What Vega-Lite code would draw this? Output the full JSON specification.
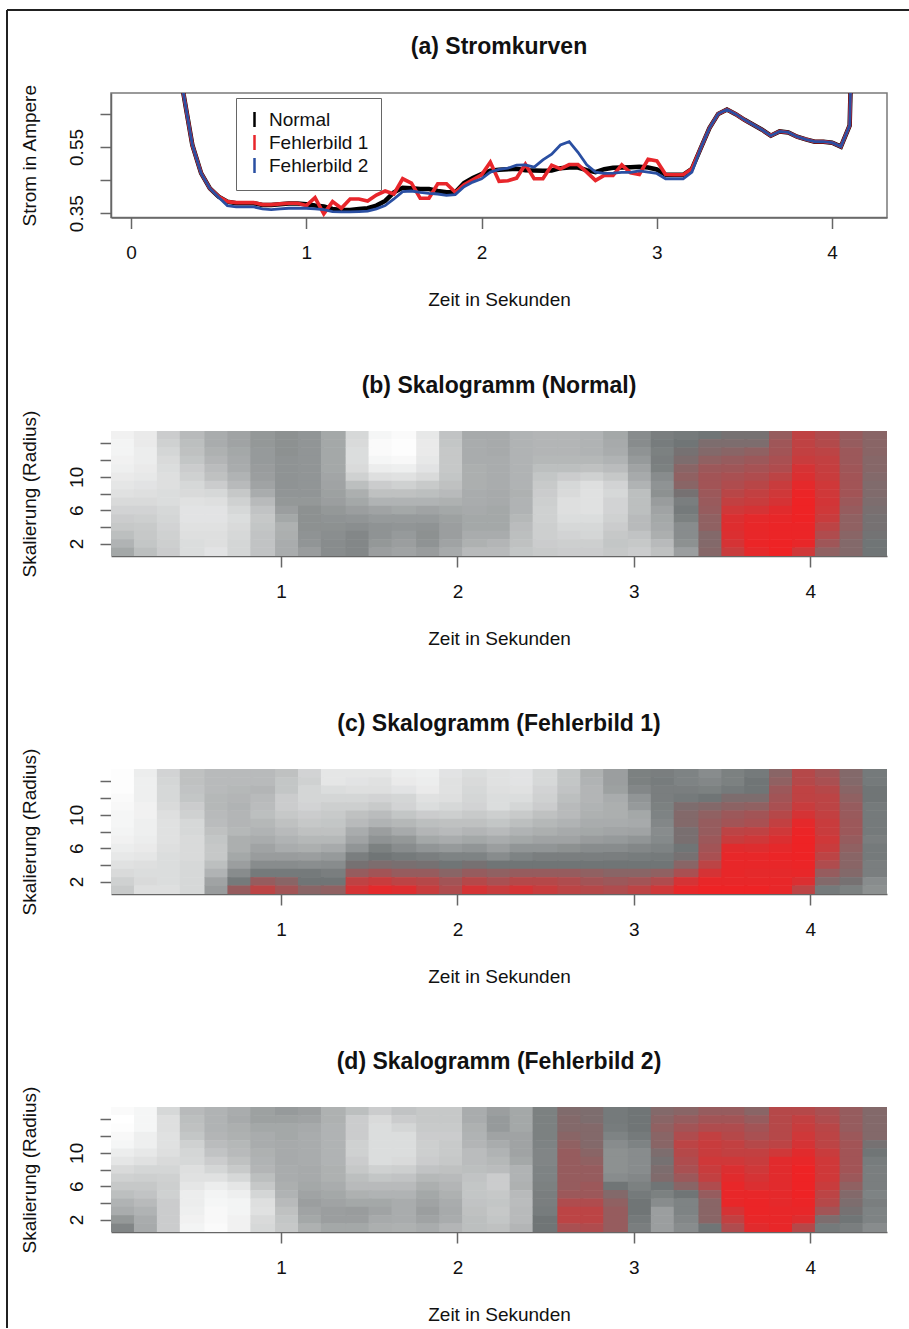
{"$schema":"https://vega.github.io/schema/vega-lite/v6.json","padding":{"left":5,"top":8,"right":0,"bottom":0},"background":"white","bounds":"flush","spacing":213,"config":{"font":"Liberation Sans","view":{"stroke":null},"title":{"fontSize":23,"fontWeight":"bold","offset":12,"frame":"group","color":"#111"},"axis":{"labelFontSize":19,"titleFontSize":19,"titleFontWeight":"normal","labelColor":"#111","titleColor":"#111","tickColor":"#666","domainColor":"#666","tickWidth":1.5,"domainWidth":1.5,"tickSize":11,"grid":false}},
"datasets":{
"kurven":[
{"s":"Normal","t":0.25,"i":0.95},{"s":"Normal","t":0.3,"i":0.709},{"s":"Normal","t":0.35,"i":0.556},{"s":"Normal","t":0.4,"i":0.471},{"s":"Normal","t":0.45,"i":0.425},{"s":"Normal","t":0.5,"i":0.4},{"s":"Normal","t":0.55,"i":0.385},{"s":"Normal","t":0.6,"i":0.38},{"s":"Normal","t":0.65,"i":0.38},{"s":"Normal","t":0.7,"i":0.38},{"s":"Normal","t":0.75,"i":0.375},{"s":"Normal","t":0.8,"i":0.375},{"s":"Normal","t":0.85,"i":0.377},{"s":"Normal","t":0.9,"i":0.379},{"s":"Normal","t":0.95,"i":0.379},{"s":"Normal","t":1.0,"i":0.377},{"s":"Normal","t":1.05,"i":0.373},{"s":"Normal","t":1.1,"i":0.37},{"s":"Normal","t":1.15,"i":0.363},{"s":"Normal","t":1.2,"i":0.36},{"s":"Normal","t":1.25,"i":0.36},{"s":"Normal","t":1.3,"i":0.363},{"s":"Normal","t":1.35,"i":0.365},{"s":"Normal","t":1.4,"i":0.373},{"s":"Normal","t":1.45,"i":0.387},{"s":"Normal","t":1.5,"i":0.413},{"s":"Normal","t":1.55,"i":0.427},{"s":"Normal","t":1.6,"i":0.425},{"s":"Normal","t":1.65,"i":0.423},{"s":"Normal","t":1.7,"i":0.423},{"s":"Normal","t":1.75,"i":0.417},{"s":"Normal","t":1.8,"i":0.413},{"s":"Normal","t":1.85,"i":0.413},{"s":"Normal","t":1.9,"i":0.441},{"s":"Normal","t":1.95,"i":0.456},{"s":"Normal","t":2.0,"i":0.468},{"s":"Normal","t":2.05,"i":0.478},{"s":"Normal","t":2.1,"i":0.481},{"s":"Normal","t":2.15,"i":0.483},{"s":"Normal","t":2.2,"i":0.484},{"s":"Normal","t":2.25,"i":0.48},{"s":"Normal","t":2.3,"i":0.479},{"s":"Normal","t":2.35,"i":0.478},{"s":"Normal","t":2.4,"i":0.479},{"s":"Normal","t":2.45,"i":0.486},{"s":"Normal","t":2.5,"i":0.488},{"s":"Normal","t":2.55,"i":0.488},{"s":"Normal","t":2.6,"i":0.48},{"s":"Normal","t":2.65,"i":0.474},{"s":"Normal","t":2.7,"i":0.483},{"s":"Normal","t":2.75,"i":0.487},{"s":"Normal","t":2.8,"i":0.488},{"s":"Normal","t":2.85,"i":0.489},{"s":"Normal","t":2.9,"i":0.49},{"s":"Normal","t":2.95,"i":0.488},{"s":"Normal","t":3.0,"i":0.482},{"s":"Normal","t":3.05,"i":0.466},{"s":"Normal","t":3.1,"i":0.466},{"s":"Normal","t":3.15,"i":0.466},{"s":"Normal","t":3.2,"i":0.484},{"s":"Normal","t":3.25,"i":0.546},{"s":"Normal","t":3.3,"i":0.607},{"s":"Normal","t":3.35,"i":0.65},{"s":"Normal","t":3.4,"i":0.663},{"s":"Normal","t":3.45,"i":0.649},{"s":"Normal","t":3.5,"i":0.632},{"s":"Normal","t":3.55,"i":0.617},{"s":"Normal","t":3.6,"i":0.602},{"s":"Normal","t":3.65,"i":0.584},{"s":"Normal","t":3.7,"i":0.597},{"s":"Normal","t":3.75,"i":0.594},{"s":"Normal","t":3.8,"i":0.581},{"s":"Normal","t":3.85,"i":0.573},{"s":"Normal","t":3.9,"i":0.566},{"s":"Normal","t":3.95,"i":0.566},{"s":"Normal","t":4.0,"i":0.563},{"s":"Normal","t":4.05,"i":0.551},{"s":"Normal","t":4.1,"i":0.615},{"s":"Normal","t":4.15,"i":1.7},
{"s":"Fehlerbild 1","t":0.25,"i":0.95},{"s":"Fehlerbild 1","t":0.3,"i":0.709},{"s":"Fehlerbild 1","t":0.35,"i":0.556},{"s":"Fehlerbild 1","t":0.4,"i":0.471},{"s":"Fehlerbild 1","t":0.45,"i":0.425},{"s":"Fehlerbild 1","t":0.5,"i":0.4},{"s":"Fehlerbild 1","t":0.55,"i":0.385},{"s":"Fehlerbild 1","t":0.6,"i":0.382},{"s":"Fehlerbild 1","t":0.65,"i":0.382},{"s":"Fehlerbild 1","t":0.7,"i":0.382},{"s":"Fehlerbild 1","t":0.75,"i":0.376},{"s":"Fehlerbild 1","t":0.8,"i":0.376},{"s":"Fehlerbild 1","t":0.85,"i":0.378},{"s":"Fehlerbild 1","t":0.9,"i":0.38},{"s":"Fehlerbild 1","t":0.95,"i":0.38},{"s":"Fehlerbild 1","t":1.0,"i":0.373},{"s":"Fehlerbild 1","t":1.05,"i":0.397},{"s":"Fehlerbild 1","t":1.1,"i":0.348},{"s":"Fehlerbild 1","t":1.15,"i":0.385},{"s":"Fehlerbild 1","t":1.2,"i":0.365},{"s":"Fehlerbild 1","t":1.25,"i":0.393},{"s":"Fehlerbild 1","t":1.3,"i":0.393},{"s":"Fehlerbild 1","t":1.35,"i":0.387},{"s":"Fehlerbild 1","t":1.4,"i":0.405},{"s":"Fehlerbild 1","t":1.45,"i":0.417},{"s":"Fehlerbild 1","t":1.5,"i":0.408},{"s":"Fehlerbild 1","t":1.55,"i":0.454},{"s":"Fehlerbild 1","t":1.6,"i":0.441},{"s":"Fehlerbild 1","t":1.65,"i":0.395},{"s":"Fehlerbild 1","t":1.7,"i":0.395},{"s":"Fehlerbild 1","t":1.75,"i":0.439},{"s":"Fehlerbild 1","t":1.8,"i":0.439},{"s":"Fehlerbild 1","t":1.85,"i":0.413},{"s":"Fehlerbild 1","t":1.9,"i":0.436},{"s":"Fehlerbild 1","t":1.95,"i":0.451},{"s":"Fehlerbild 1","t":2.0,"i":0.466},{"s":"Fehlerbild 1","t":2.05,"i":0.504},{"s":"Fehlerbild 1","t":2.1,"i":0.446},{"s":"Fehlerbild 1","t":2.15,"i":0.448},{"s":"Fehlerbild 1","t":2.2,"i":0.456},{"s":"Fehlerbild 1","t":2.25,"i":0.498},{"s":"Fehlerbild 1","t":2.3,"i":0.454},{"s":"Fehlerbild 1","t":2.35,"i":0.454},{"s":"Fehlerbild 1","t":2.4,"i":0.495},{"s":"Fehlerbild 1","t":2.45,"i":0.484},{"s":"Fehlerbild 1","t":2.5,"i":0.497},{"s":"Fehlerbild 1","t":2.55,"i":0.497},{"s":"Fehlerbild 1","t":2.6,"i":0.474},{"s":"Fehlerbild 1","t":2.65,"i":0.449},{"s":"Fehlerbild 1","t":2.7,"i":0.464},{"s":"Fehlerbild 1","t":2.75,"i":0.464},{"s":"Fehlerbild 1","t":2.8,"i":0.496},{"s":"Fehlerbild 1","t":2.85,"i":0.472},{"s":"Fehlerbild 1","t":2.9,"i":0.467},{"s":"Fehlerbild 1","t":2.95,"i":0.513},{"s":"Fehlerbild 1","t":3.0,"i":0.508},{"s":"Fehlerbild 1","t":3.05,"i":0.467},{"s":"Fehlerbild 1","t":3.1,"i":0.466},{"s":"Fehlerbild 1","t":3.15,"i":0.466},{"s":"Fehlerbild 1","t":3.2,"i":0.484},{"s":"Fehlerbild 1","t":3.25,"i":0.546},{"s":"Fehlerbild 1","t":3.3,"i":0.607},{"s":"Fehlerbild 1","t":3.35,"i":0.65},{"s":"Fehlerbild 1","t":3.4,"i":0.663},{"s":"Fehlerbild 1","t":3.45,"i":0.649},{"s":"Fehlerbild 1","t":3.5,"i":0.632},{"s":"Fehlerbild 1","t":3.55,"i":0.617},{"s":"Fehlerbild 1","t":3.6,"i":0.602},{"s":"Fehlerbild 1","t":3.65,"i":0.584},{"s":"Fehlerbild 1","t":3.7,"i":0.597},{"s":"Fehlerbild 1","t":3.75,"i":0.594},{"s":"Fehlerbild 1","t":3.8,"i":0.581},{"s":"Fehlerbild 1","t":3.85,"i":0.573},{"s":"Fehlerbild 1","t":3.9,"i":0.566},{"s":"Fehlerbild 1","t":3.95,"i":0.566},{"s":"Fehlerbild 1","t":4.0,"i":0.563},{"s":"Fehlerbild 1","t":4.05,"i":0.551},{"s":"Fehlerbild 1","t":4.1,"i":0.615},{"s":"Fehlerbild 1","t":4.15,"i":1.7},
{"s":"Fehlerbild 2","t":0.25,"i":0.95},{"s":"Fehlerbild 2","t":0.3,"i":0.709},{"s":"Fehlerbild 2","t":0.35,"i":0.556},{"s":"Fehlerbild 2","t":0.4,"i":0.471},{"s":"Fehlerbild 2","t":0.45,"i":0.425},{"s":"Fehlerbild 2","t":0.5,"i":0.398},{"s":"Fehlerbild 2","t":0.55,"i":0.373},{"s":"Fehlerbild 2","t":0.6,"i":0.369},{"s":"Fehlerbild 2","t":0.65,"i":0.369},{"s":"Fehlerbild 2","t":0.7,"i":0.369},{"s":"Fehlerbild 2","t":0.75,"i":0.363},{"s":"Fehlerbild 2","t":0.8,"i":0.361},{"s":"Fehlerbild 2","t":0.85,"i":0.363},{"s":"Fehlerbild 2","t":0.9,"i":0.365},{"s":"Fehlerbild 2","t":0.95,"i":0.365},{"s":"Fehlerbild 2","t":1.0,"i":0.365},{"s":"Fehlerbild 2","t":1.05,"i":0.363},{"s":"Fehlerbild 2","t":1.1,"i":0.361},{"s":"Fehlerbild 2","t":1.15,"i":0.355},{"s":"Fehlerbild 2","t":1.2,"i":0.354},{"s":"Fehlerbild 2","t":1.25,"i":0.354},{"s":"Fehlerbild 2","t":1.3,"i":0.355},{"s":"Fehlerbild 2","t":1.35,"i":0.356},{"s":"Fehlerbild 2","t":1.4,"i":0.363},{"s":"Fehlerbild 2","t":1.45,"i":0.373},{"s":"Fehlerbild 2","t":1.5,"i":0.393},{"s":"Fehlerbild 2","t":1.55,"i":0.415},{"s":"Fehlerbild 2","t":1.6,"i":0.417},{"s":"Fehlerbild 2","t":1.65,"i":0.413},{"s":"Fehlerbild 2","t":1.7,"i":0.41},{"s":"Fehlerbild 2","t":1.75,"i":0.408},{"s":"Fehlerbild 2","t":1.8,"i":0.404},{"s":"Fehlerbild 2","t":1.85,"i":0.406},{"s":"Fehlerbild 2","t":1.9,"i":0.43},{"s":"Fehlerbild 2","t":1.95,"i":0.444},{"s":"Fehlerbild 2","t":2.0,"i":0.454},{"s":"Fehlerbild 2","t":2.05,"i":0.474},{"s":"Fehlerbild 2","t":2.1,"i":0.482},{"s":"Fehlerbild 2","t":2.15,"i":0.486},{"s":"Fehlerbild 2","t":2.2,"i":0.495},{"s":"Fehlerbild 2","t":2.25,"i":0.496},{"s":"Fehlerbild 2","t":2.3,"i":0.489},{"s":"Fehlerbild 2","t":2.35,"i":0.511},{"s":"Fehlerbild 2","t":2.4,"i":0.528},{"s":"Fehlerbild 2","t":2.45,"i":0.556},{"s":"Fehlerbild 2","t":2.5,"i":0.566},{"s":"Fehlerbild 2","t":2.55,"i":0.534},{"s":"Fehlerbild 2","t":2.6,"i":0.496},{"s":"Fehlerbild 2","t":2.65,"i":0.474},{"s":"Fehlerbild 2","t":2.7,"i":0.47},{"s":"Fehlerbild 2","t":2.75,"i":0.471},{"s":"Fehlerbild 2","t":2.8,"i":0.473},{"s":"Fehlerbild 2","t":2.85,"i":0.473},{"s":"Fehlerbild 2","t":2.9,"i":0.478},{"s":"Fehlerbild 2","t":2.95,"i":0.474},{"s":"Fehlerbild 2","t":3.0,"i":0.47},{"s":"Fehlerbild 2","t":3.05,"i":0.454},{"s":"Fehlerbild 2","t":3.1,"i":0.454},{"s":"Fehlerbild 2","t":3.15,"i":0.454},{"s":"Fehlerbild 2","t":3.2,"i":0.474},{"s":"Fehlerbild 2","t":3.25,"i":0.546},{"s":"Fehlerbild 2","t":3.3,"i":0.607},{"s":"Fehlerbild 2","t":3.35,"i":0.65},{"s":"Fehlerbild 2","t":3.4,"i":0.663},{"s":"Fehlerbild 2","t":3.45,"i":0.649},{"s":"Fehlerbild 2","t":3.5,"i":0.632},{"s":"Fehlerbild 2","t":3.55,"i":0.617},{"s":"Fehlerbild 2","t":3.6,"i":0.602},{"s":"Fehlerbild 2","t":3.65,"i":0.584},{"s":"Fehlerbild 2","t":3.7,"i":0.597},{"s":"Fehlerbild 2","t":3.75,"i":0.594},{"s":"Fehlerbild 2","t":3.8,"i":0.581},{"s":"Fehlerbild 2","t":3.85,"i":0.573},{"s":"Fehlerbild 2","t":3.9,"i":0.566},{"s":"Fehlerbild 2","t":3.95,"i":0.566},{"s":"Fehlerbild 2","t":4.0,"i":0.563},{"s":"Fehlerbild 2","t":4.05,"i":0.551},{"s":"Fehlerbild 2","t":4.1,"i":0.615},{"s":"Fehlerbild 2","t":4.15,"i":1.7}
],
"b":[
{"t":0.1,"r":15,"v":6},{"t":0.1,"r":14,"v":5},{"t":0.1,"r":13,"v":5},{"t":0.1,"r":12,"v":6},{"t":0.1,"r":11,"v":7},{"t":0.1,"r":10,"v":9},{"t":0.1,"r":9,"v":11},{"t":0.1,"r":8,"v":13},{"t":0.1,"r":7,"v":16},{"t":0.1,"r":6,"v":19},{"t":0.1,"r":5,"v":22},{"t":0.1,"r":4,"v":24},{"t":0.1,"r":3,"v":28},{"t":0.1,"r":2,"v":33},{"t":0.1,"r":1,"v":38},
{"t":0.24,"r":15,"v":9},{"t":0.24,"r":14,"v":9},{"t":0.24,"r":13,"v":8},{"t":0.24,"r":12,"v":8},{"t":0.24,"r":11,"v":9},{"t":0.24,"r":10,"v":10},{"t":0.24,"r":9,"v":12},{"t":0.24,"r":8,"v":14},{"t":0.24,"r":7,"v":16},{"t":0.24,"r":6,"v":19},{"t":0.24,"r":5,"v":21},{"t":0.24,"r":4,"v":23},{"t":0.24,"r":3,"v":24},{"t":0.24,"r":2,"v":25},{"t":0.24,"r":1,"v":28},
{"t":0.37,"r":15,"v":22},{"t":0.37,"r":14,"v":20},{"t":0.37,"r":13,"v":18},{"t":0.37,"r":12,"v":16},{"t":0.37,"r":11,"v":15},{"t":0.37,"r":10,"v":14},{"t":0.37,"r":9,"v":14},{"t":0.37,"r":8,"v":15},{"t":0.37,"r":7,"v":15},{"t":0.37,"r":6,"v":17},{"t":0.37,"r":5,"v":18},{"t":0.37,"r":4,"v":19},{"t":0.37,"r":3,"v":20},{"t":0.37,"r":2,"v":21},{"t":0.37,"r":1,"v":22},
{"t":0.5,"r":15,"v":30},{"t":0.5,"r":14,"v":28},{"t":0.5,"r":13,"v":27},{"t":0.5,"r":12,"v":25},{"t":0.5,"r":11,"v":22},{"t":0.5,"r":10,"v":20},{"t":0.5,"r":9,"v":17},{"t":0.5,"r":8,"v":16},{"t":0.5,"r":7,"v":13},{"t":0.5,"r":6,"v":12},{"t":0.5,"r":5,"v":12},{"t":0.5,"r":4,"v":13},{"t":0.5,"r":3,"v":14},{"t":0.5,"r":2,"v":15},{"t":0.5,"r":1,"v":15},
{"t":0.64,"r":15,"v":36},{"t":0.64,"r":14,"v":36},{"t":0.64,"r":13,"v":34},{"t":0.64,"r":12,"v":32},{"t":0.64,"r":11,"v":29},{"t":0.64,"r":10,"v":27},{"t":0.64,"r":9,"v":22},{"t":0.64,"r":8,"v":17},{"t":0.64,"r":7,"v":14},{"t":0.64,"r":6,"v":12},{"t":0.64,"r":5,"v":12},{"t":0.64,"r":4,"v":13},{"t":0.64,"r":3,"v":14},{"t":0.64,"r":2,"v":14},{"t":0.64,"r":1,"v":12},
{"t":0.77,"r":15,"v":40},{"t":0.77,"r":14,"v":40},{"t":0.77,"r":13,"v":38},{"t":0.77,"r":12,"v":37},{"t":0.77,"r":11,"v":36},{"t":0.77,"r":10,"v":33},{"t":0.77,"r":9,"v":30},{"t":0.77,"r":8,"v":24},{"t":0.77,"r":7,"v":20},{"t":0.77,"r":6,"v":17},{"t":0.77,"r":5,"v":15},{"t":0.77,"r":4,"v":16},{"t":0.77,"r":3,"v":17},{"t":0.77,"r":2,"v":18},{"t":0.77,"r":1,"v":18},
{"t":0.9,"r":15,"v":45},{"t":0.9,"r":14,"v":45},{"t":0.9,"r":13,"v":44},{"t":0.9,"r":12,"v":44},{"t":0.9,"r":11,"v":43},{"t":0.9,"r":10,"v":42},{"t":0.9,"r":9,"v":40},{"t":0.9,"r":8,"v":36},{"t":0.9,"r":7,"v":30},{"t":0.9,"r":6,"v":26},{"t":0.9,"r":5,"v":24},{"t":0.9,"r":4,"v":25},{"t":0.9,"r":3,"v":26},{"t":0.9,"r":2,"v":26},{"t":0.9,"r":1,"v":26},
{"t":1.04,"r":15,"v":48},{"t":1.04,"r":14,"v":48},{"t":1.04,"r":13,"v":48},{"t":1.04,"r":12,"v":47},{"t":1.04,"r":11,"v":47},{"t":1.04,"r":10,"v":47},{"t":1.04,"r":9,"v":47},{"t":1.04,"r":8,"v":46},{"t":1.04,"r":7,"v":45},{"t":1.04,"r":6,"v":42},{"t":1.04,"r":5,"v":38},{"t":1.04,"r":4,"v":34},{"t":1.04,"r":3,"v":35},{"t":1.04,"r":2,"v":36},{"t":1.04,"r":1,"v":36},
{"t":1.17,"r":15,"v":46},{"t":1.17,"r":14,"v":46},{"t":1.17,"r":13,"v":46},{"t":1.17,"r":12,"v":46},{"t":1.17,"r":11,"v":46},{"t":1.17,"r":10,"v":46},{"t":1.17,"r":9,"v":46},{"t":1.17,"r":8,"v":46},{"t":1.17,"r":7,"v":45},{"t":1.17,"r":6,"v":48},{"t":1.17,"r":5,"v":48},{"t":1.17,"r":4,"v":48},{"t":1.17,"r":3,"v":47},{"t":1.17,"r":2,"v":46},{"t":1.17,"r":1,"v":43},
{"t":1.3,"r":15,"v":38},{"t":1.3,"r":14,"v":38},{"t":1.3,"r":13,"v":38},{"t":1.3,"r":12,"v":38},{"t":1.3,"r":11,"v":38},{"t":1.3,"r":10,"v":39},{"t":1.3,"r":9,"v":40},{"t":1.3,"r":8,"v":41},{"t":1.3,"r":7,"v":42},{"t":1.3,"r":6,"v":45},{"t":1.3,"r":5,"v":47},{"t":1.3,"r":4,"v":48},{"t":1.3,"r":3,"v":49},{"t":1.3,"r":2,"v":50},{"t":1.3,"r":1,"v":50},
{"t":1.44,"r":15,"v":17},{"t":1.44,"r":14,"v":16},{"t":1.44,"r":13,"v":15},{"t":1.44,"r":12,"v":15},{"t":1.44,"r":11,"v":16},{"t":1.44,"r":10,"v":20},{"t":1.44,"r":9,"v":28},{"t":1.44,"r":8,"v":35},{"t":1.44,"r":7,"v":38},{"t":1.44,"r":6,"v":42},{"t":1.44,"r":5,"v":46},{"t":1.44,"r":4,"v":49},{"t":1.44,"r":3,"v":52},{"t":1.44,"r":2,"v":52},{"t":1.44,"r":1,"v":52},
{"t":1.57,"r":15,"v":4},{"t":1.57,"r":14,"v":2},{"t":1.57,"r":13,"v":2},{"t":1.57,"r":12,"v":4},{"t":1.57,"r":11,"v":8},{"t":1.57,"r":10,"v":14},{"t":1.57,"r":9,"v":22},{"t":1.57,"r":8,"v":27},{"t":1.57,"r":7,"v":33},{"t":1.57,"r":6,"v":40},{"t":1.57,"r":5,"v":44},{"t":1.57,"r":4,"v":47},{"t":1.57,"r":3,"v":47},{"t":1.57,"r":2,"v":45},{"t":1.57,"r":1,"v":42},
{"t":1.7,"r":15,"v":2},{"t":1.7,"r":14,"v":1},{"t":1.7,"r":13,"v":1},{"t":1.7,"r":12,"v":3},{"t":1.7,"r":11,"v":7},{"t":1.7,"r":10,"v":13},{"t":1.7,"r":9,"v":20},{"t":1.7,"r":8,"v":27},{"t":1.7,"r":7,"v":33},{"t":1.7,"r":6,"v":38},{"t":1.7,"r":5,"v":44},{"t":1.7,"r":4,"v":46},{"t":1.7,"r":3,"v":44},{"t":1.7,"r":2,"v":42},{"t":1.7,"r":1,"v":40},
{"t":1.84,"r":15,"v":10},{"t":1.84,"r":14,"v":9},{"t":1.84,"r":13,"v":9},{"t":1.84,"r":12,"v":10},{"t":1.84,"r":11,"v":12},{"t":1.84,"r":10,"v":16},{"t":1.84,"r":9,"v":23},{"t":1.84,"r":8,"v":28},{"t":1.84,"r":7,"v":33},{"t":1.84,"r":6,"v":40},{"t":1.84,"r":5,"v":44},{"t":1.84,"r":4,"v":47},{"t":1.84,"r":3,"v":48},{"t":1.84,"r":2,"v":47},{"t":1.84,"r":1,"v":43},
{"t":1.97,"r":15,"v":26},{"t":1.97,"r":14,"v":25},{"t":1.97,"r":13,"v":24},{"t":1.97,"r":12,"v":24},{"t":1.97,"r":11,"v":24},{"t":1.97,"r":10,"v":25},{"t":1.97,"r":9,"v":27},{"t":1.97,"r":8,"v":30},{"t":1.97,"r":7,"v":34},{"t":1.97,"r":6,"v":38},{"t":1.97,"r":5,"v":41},{"t":1.97,"r":4,"v":42},{"t":1.97,"r":3,"v":42},{"t":1.97,"r":2,"v":40},{"t":1.97,"r":1,"v":37},
{"t":2.1,"r":15,"v":37},{"t":2.1,"r":14,"v":36},{"t":2.1,"r":13,"v":36},{"t":2.1,"r":12,"v":36},{"t":2.1,"r":11,"v":35},{"t":2.1,"r":10,"v":35},{"t":2.1,"r":9,"v":35},{"t":2.1,"r":8,"v":36},{"t":2.1,"r":7,"v":36},{"t":2.1,"r":6,"v":37},{"t":2.1,"r":5,"v":38},{"t":2.1,"r":4,"v":38},{"t":2.1,"r":3,"v":36},{"t":2.1,"r":2,"v":34},{"t":2.1,"r":1,"v":30},
{"t":2.24,"r":15,"v":37},{"t":2.24,"r":14,"v":37},{"t":2.24,"r":13,"v":37},{"t":2.24,"r":12,"v":36},{"t":2.24,"r":11,"v":36},{"t":2.24,"r":10,"v":36},{"t":2.24,"r":9,"v":36},{"t":2.24,"r":8,"v":37},{"t":2.24,"r":7,"v":37},{"t":2.24,"r":6,"v":38},{"t":2.24,"r":5,"v":38},{"t":2.24,"r":4,"v":38},{"t":2.24,"r":3,"v":36},{"t":2.24,"r":2,"v":32},{"t":2.24,"r":1,"v":30},
{"t":2.37,"r":15,"v":33},{"t":2.37,"r":14,"v":33},{"t":2.37,"r":13,"v":33},{"t":2.37,"r":12,"v":33},{"t":2.37,"r":11,"v":33},{"t":2.37,"r":10,"v":33},{"t":2.37,"r":9,"v":33},{"t":2.37,"r":8,"v":34},{"t":2.37,"r":7,"v":33},{"t":2.37,"r":6,"v":33},{"t":2.37,"r":5,"v":31},{"t":2.37,"r":4,"v":29},{"t":2.37,"r":3,"v":28},{"t":2.37,"r":2,"v":27},{"t":2.37,"r":1,"v":25},
{"t":2.5,"r":15,"v":32},{"t":2.5,"r":14,"v":32},{"t":2.5,"r":13,"v":32},{"t":2.5,"r":12,"v":31},{"t":2.5,"r":11,"v":28},{"t":2.5,"r":10,"v":25},{"t":2.5,"r":9,"v":23},{"t":2.5,"r":8,"v":22},{"t":2.5,"r":7,"v":21},{"t":2.5,"r":6,"v":20},{"t":2.5,"r":5,"v":20},{"t":2.5,"r":4,"v":21},{"t":2.5,"r":3,"v":21},{"t":2.5,"r":2,"v":22},{"t":2.5,"r":1,"v":23},
{"t":2.64,"r":15,"v":32},{"t":2.64,"r":14,"v":32},{"t":2.64,"r":13,"v":32},{"t":2.64,"r":12,"v":31},{"t":2.64,"r":11,"v":28},{"t":2.64,"r":10,"v":22},{"t":2.64,"r":9,"v":17},{"t":2.64,"r":8,"v":16},{"t":2.64,"r":7,"v":14},{"t":2.64,"r":6,"v":14},{"t":2.64,"r":5,"v":15},{"t":2.64,"r":4,"v":17},{"t":2.64,"r":3,"v":19},{"t":2.64,"r":2,"v":21},{"t":2.64,"r":1,"v":22},
{"t":2.77,"r":15,"v":33},{"t":2.77,"r":14,"v":33},{"t":2.77,"r":13,"v":33},{"t":2.77,"r":12,"v":31},{"t":2.77,"r":11,"v":27},{"t":2.77,"r":10,"v":20},{"t":2.77,"r":9,"v":14},{"t":2.77,"r":8,"v":13},{"t":2.77,"r":7,"v":13},{"t":2.77,"r":6,"v":13},{"t":2.77,"r":5,"v":15},{"t":2.77,"r":4,"v":17},{"t":2.77,"r":3,"v":18},{"t":2.77,"r":2,"v":21},{"t":2.77,"r":1,"v":22},
{"t":2.9,"r":15,"v":38},{"t":2.9,"r":14,"v":37},{"t":2.9,"r":13,"v":36},{"t":2.9,"r":12,"v":33},{"t":2.9,"r":11,"v":29},{"t":2.9,"r":10,"v":24},{"t":2.9,"r":9,"v":19},{"t":2.9,"r":8,"v":17},{"t":2.9,"r":7,"v":19},{"t":2.9,"r":6,"v":19},{"t":2.9,"r":5,"v":20},{"t":2.9,"r":4,"v":22},{"t":2.9,"r":3,"v":24},{"t":2.9,"r":2,"v":25},{"t":2.9,"r":1,"v":24},
{"t":3.04,"r":15,"v":50},{"t":3.04,"r":14,"v":50},{"t":3.04,"r":13,"v":47},{"t":3.04,"r":12,"v":44},{"t":3.04,"r":11,"v":40},{"t":3.04,"r":10,"v":37},{"t":3.04,"r":9,"v":33},{"t":3.04,"r":8,"v":28},{"t":3.04,"r":7,"v":28},{"t":3.04,"r":6,"v":28},{"t":3.04,"r":5,"v":30},{"t":3.04,"r":4,"v":30},{"t":3.04,"r":3,"v":26},{"t":3.04,"r":2,"v":24},{"t":3.04,"r":1,"v":22},
{"t":3.17,"r":15,"v":56},{"t":3.17,"r":14,"v":57},{"t":3.17,"r":13,"v":55},{"t":3.17,"r":12,"v":56},{"t":3.17,"r":11,"v":55},{"t":3.17,"r":10,"v":50},{"t":3.17,"r":9,"v":47},{"t":3.17,"r":8,"v":48},{"t":3.17,"r":7,"v":43},{"t":3.17,"r":6,"v":40},{"t":3.17,"r":5,"v":38},{"t":3.17,"r":4,"v":37},{"t":3.17,"r":3,"v":35},{"t":3.17,"r":2,"v":30},{"t":3.17,"r":1,"v":27},
{"t":3.3,"r":15,"v":58},{"t":3.3,"r":14,"v":60},{"t":3.3,"r":13,"v":62},{"t":3.3,"r":12,"v":64},{"t":3.3,"r":11,"v":68},{"t":3.3,"r":10,"v":70},{"t":3.3,"r":9,"v":68},{"t":3.3,"r":8,"v":62},{"t":3.3,"r":7,"v":56},{"t":3.3,"r":6,"v":58},{"t":3.3,"r":5,"v":55},{"t":3.3,"r":4,"v":50},{"t":3.3,"r":3,"v":50},{"t":3.3,"r":2,"v":48},{"t":3.3,"r":1,"v":42},
{"t":3.44,"r":15,"v":60},{"t":3.44,"r":14,"v":64},{"t":3.44,"r":13,"v":66},{"t":3.44,"r":12,"v":70},{"t":3.44,"r":11,"v":74},{"t":3.44,"r":10,"v":76},{"t":3.44,"r":9,"v":76},{"t":3.44,"r":8,"v":74},{"t":3.44,"r":7,"v":73},{"t":3.44,"r":6,"v":72},{"t":3.44,"r":5,"v":70},{"t":3.44,"r":4,"v":70},{"t":3.44,"r":3,"v":66},{"t":3.44,"r":2,"v":66},{"t":3.44,"r":1,"v":67},
{"t":3.57,"r":15,"v":62},{"t":3.57,"r":14,"v":64},{"t":3.57,"r":13,"v":68},{"t":3.57,"r":12,"v":72},{"t":3.57,"r":11,"v":75},{"t":3.57,"r":10,"v":78},{"t":3.57,"r":9,"v":80},{"t":3.57,"r":8,"v":83},{"t":3.57,"r":7,"v":86},{"t":3.57,"r":6,"v":90},{"t":3.57,"r":5,"v":94},{"t":3.57,"r":4,"v":95},{"t":3.57,"r":3,"v":94},{"t":3.57,"r":2,"v":92},{"t":3.57,"r":1,"v":88},
{"t":3.7,"r":15,"v":62},{"t":3.7,"r":14,"v":64},{"t":3.7,"r":13,"v":70},{"t":3.7,"r":12,"v":74},{"t":3.7,"r":11,"v":77},{"t":3.7,"r":10,"v":80},{"t":3.7,"r":9,"v":83},{"t":3.7,"r":8,"v":86},{"t":3.7,"r":7,"v":88},{"t":3.7,"r":6,"v":92},{"t":3.7,"r":5,"v":97},{"t":3.7,"r":4,"v":98},{"t":3.7,"r":3,"v":98},{"t":3.7,"r":2,"v":99},{"t":3.7,"r":1,"v":97},
{"t":3.84,"r":15,"v":72},{"t":3.84,"r":14,"v":75},{"t":3.84,"r":13,"v":76},{"t":3.84,"r":12,"v":78},{"t":3.84,"r":11,"v":80},{"t":3.84,"r":10,"v":84},{"t":3.84,"r":9,"v":88},{"t":3.84,"r":8,"v":90},{"t":3.84,"r":7,"v":92},{"t":3.84,"r":6,"v":96},{"t":3.84,"r":5,"v":98},{"t":3.84,"r":4,"v":99},{"t":3.84,"r":3,"v":99},{"t":3.84,"r":2,"v":100},{"t":3.84,"r":1,"v":100},
{"t":3.97,"r":15,"v":85},{"t":3.97,"r":14,"v":85},{"t":3.97,"r":13,"v":86},{"t":3.97,"r":12,"v":88},{"t":3.97,"r":11,"v":92},{"t":3.97,"r":10,"v":94},{"t":3.97,"r":9,"v":97},{"t":3.97,"r":8,"v":99},{"t":3.97,"r":7,"v":100},{"t":3.97,"r":6,"v":100},{"t":3.97,"r":5,"v":100},{"t":3.97,"r":4,"v":99},{"t":3.97,"r":3,"v":99},{"t":3.97,"r":2,"v":98},{"t":3.97,"r":1,"v":90},
{"t":4.1,"r":15,"v":80},{"t":4.1,"r":14,"v":81},{"t":4.1,"r":13,"v":84},{"t":4.1,"r":12,"v":86},{"t":4.1,"r":11,"v":87},{"t":4.1,"r":10,"v":88},{"t":4.1,"r":9,"v":90},{"t":4.1,"r":8,"v":90},{"t":4.1,"r":7,"v":91},{"t":4.1,"r":6,"v":90},{"t":4.1,"r":5,"v":88},{"t":4.1,"r":4,"v":84},{"t":4.1,"r":3,"v":80},{"t":4.1,"r":2,"v":75},{"t":4.1,"r":1,"v":70},
{"t":4.24,"r":15,"v":72},{"t":4.24,"r":14,"v":72},{"t":4.24,"r":13,"v":74},{"t":4.24,"r":12,"v":74},{"t":4.24,"r":11,"v":75},{"t":4.24,"r":10,"v":76},{"t":4.24,"r":9,"v":76},{"t":4.24,"r":8,"v":76},{"t":4.24,"r":7,"v":74},{"t":4.24,"r":6,"v":72},{"t":4.24,"r":5,"v":70},{"t":4.24,"r":4,"v":70},{"t":4.24,"r":3,"v":68},{"t":4.24,"r":2,"v":66},{"t":4.24,"r":1,"v":66},
{"t":4.37,"r":15,"v":68},{"t":4.37,"r":14,"v":68},{"t":4.37,"r":13,"v":68},{"t":4.37,"r":12,"v":67},{"t":4.37,"r":11,"v":67},{"t":4.37,"r":10,"v":66},{"t":4.37,"r":9,"v":65},{"t":4.37,"r":8,"v":65},{"t":4.37,"r":7,"v":64},{"t":4.37,"r":6,"v":63},{"t":4.37,"r":5,"v":62},{"t":4.37,"r":4,"v":62},{"t":4.37,"r":3,"v":61},{"t":4.37,"r":2,"v":60},{"t":4.37,"r":1,"v":60}
],
"c":[
{"t":0.1,"r":15,"v":1},{"t":0.1,"r":14,"v":1},{"t":0.1,"r":13,"v":1},{"t":0.1,"r":12,"v":2},{"t":0.1,"r":11,"v":3},{"t":0.1,"r":10,"v":4},{"t":0.1,"r":9,"v":4},{"t":0.1,"r":8,"v":5},{"t":0.1,"r":7,"v":6},{"t":0.1,"r":6,"v":8},{"t":0.1,"r":5,"v":10},{"t":0.1,"r":4,"v":13},{"t":0.1,"r":3,"v":16},{"t":0.1,"r":2,"v":20},{"t":0.1,"r":1,"v":23},
{"t":0.24,"r":15,"v":8},{"t":0.24,"r":14,"v":7},{"t":0.24,"r":13,"v":7},{"t":0.24,"r":12,"v":7},{"t":0.24,"r":11,"v":6},{"t":0.24,"r":10,"v":6},{"t":0.24,"r":9,"v":7},{"t":0.24,"r":8,"v":7},{"t":0.24,"r":7,"v":8},{"t":0.24,"r":6,"v":9},{"t":0.24,"r":5,"v":11},{"t":0.24,"r":4,"v":14},{"t":0.24,"r":3,"v":15},{"t":0.24,"r":2,"v":16},{"t":0.24,"r":1,"v":14},
{"t":0.37,"r":15,"v":19},{"t":0.37,"r":14,"v":18},{"t":0.37,"r":13,"v":17},{"t":0.37,"r":12,"v":17},{"t":0.37,"r":11,"v":16},{"t":0.37,"r":10,"v":14},{"t":0.37,"r":9,"v":13},{"t":0.37,"r":8,"v":13},{"t":0.37,"r":7,"v":13},{"t":0.37,"r":6,"v":14},{"t":0.37,"r":5,"v":15},{"t":0.37,"r":4,"v":15},{"t":0.37,"r":3,"v":15},{"t":0.37,"r":2,"v":15},{"t":0.37,"r":1,"v":14},
{"t":0.5,"r":15,"v":27},{"t":0.5,"r":14,"v":27},{"t":0.5,"r":13,"v":26},{"t":0.5,"r":12,"v":25},{"t":0.5,"r":11,"v":22},{"t":0.5,"r":10,"v":20},{"t":0.5,"r":9,"v":17},{"t":0.5,"r":8,"v":17},{"t":0.5,"r":7,"v":16},{"t":0.5,"r":6,"v":16},{"t":0.5,"r":5,"v":16},{"t":0.5,"r":4,"v":17},{"t":0.5,"r":3,"v":17},{"t":0.5,"r":2,"v":17},{"t":0.5,"r":1,"v":17},
{"t":0.64,"r":15,"v":30},{"t":0.64,"r":14,"v":30},{"t":0.64,"r":13,"v":30},{"t":0.64,"r":12,"v":31},{"t":0.64,"r":11,"v":31},{"t":0.64,"r":10,"v":30},{"t":0.64,"r":9,"v":29},{"t":0.64,"r":8,"v":27},{"t":0.64,"r":7,"v":25},{"t":0.64,"r":6,"v":24},{"t":0.64,"r":5,"v":24},{"t":0.64,"r":4,"v":28},{"t":0.64,"r":3,"v":33},{"t":0.64,"r":2,"v":40},{"t":0.64,"r":1,"v":43},
{"t":0.77,"r":15,"v":30},{"t":0.77,"r":14,"v":30},{"t":0.77,"r":13,"v":31},{"t":0.77,"r":12,"v":32},{"t":0.77,"r":11,"v":33},{"t":0.77,"r":10,"v":32},{"t":0.77,"r":9,"v":32},{"t":0.77,"r":8,"v":31},{"t":0.77,"r":7,"v":35},{"t":0.77,"r":6,"v":35},{"t":0.77,"r":5,"v":38},{"t":0.77,"r":4,"v":42},{"t":0.77,"r":3,"v":50},{"t":0.77,"r":2,"v":58},{"t":0.77,"r":1,"v":72},
{"t":0.9,"r":15,"v":30},{"t":0.9,"r":14,"v":30},{"t":0.9,"r":13,"v":32},{"t":0.9,"r":12,"v":30},{"t":0.9,"r":11,"v":29},{"t":0.9,"r":10,"v":28},{"t":0.9,"r":9,"v":31},{"t":0.9,"r":8,"v":33},{"t":0.9,"r":7,"v":36},{"t":0.9,"r":6,"v":40},{"t":0.9,"r":5,"v":43},{"t":0.9,"r":4,"v":50},{"t":0.9,"r":3,"v":58},{"t":0.9,"r":2,"v":72},{"t":0.9,"r":1,"v":84},
{"t":1.04,"r":15,"v":27},{"t":1.04,"r":14,"v":25},{"t":1.04,"r":13,"v":25},{"t":1.04,"r":12,"v":22},{"t":1.04,"r":11,"v":22},{"t":1.04,"r":10,"v":24},{"t":1.04,"r":9,"v":27},{"t":1.04,"r":8,"v":30},{"t":1.04,"r":7,"v":33},{"t":1.04,"r":6,"v":36},{"t":1.04,"r":5,"v":43},{"t":1.04,"r":4,"v":50},{"t":1.04,"r":3,"v":58},{"t":1.04,"r":2,"v":68},{"t":1.04,"r":1,"v":76},
{"t":1.17,"r":15,"v":19},{"t":1.17,"r":14,"v":20},{"t":1.17,"r":13,"v":18},{"t":1.17,"r":12,"v":18},{"t":1.17,"r":11,"v":19},{"t":1.17,"r":10,"v":22},{"t":1.17,"r":9,"v":24},{"t":1.17,"r":8,"v":27},{"t":1.17,"r":7,"v":31},{"t":1.17,"r":6,"v":35},{"t":1.17,"r":5,"v":42},{"t":1.17,"r":4,"v":49},{"t":1.17,"r":3,"v":58},{"t":1.17,"r":2,"v":60},{"t":1.17,"r":1,"v":68},
{"t":1.3,"r":15,"v":11},{"t":1.3,"r":14,"v":11},{"t":1.3,"r":13,"v":15},{"t":1.3,"r":12,"v":18},{"t":1.3,"r":11,"v":21},{"t":1.3,"r":10,"v":23},{"t":1.3,"r":9,"v":25},{"t":1.3,"r":8,"v":27},{"t":1.3,"r":7,"v":31},{"t":1.3,"r":6,"v":37},{"t":1.3,"r":5,"v":44},{"t":1.3,"r":4,"v":50},{"t":1.3,"r":3,"v":56},{"t":1.3,"r":2,"v":60},{"t":1.3,"r":1,"v":70},
{"t":1.44,"r":15,"v":11},{"t":1.44,"r":14,"v":12},{"t":1.44,"r":13,"v":14},{"t":1.44,"r":12,"v":18},{"t":1.44,"r":11,"v":21},{"t":1.44,"r":10,"v":27},{"t":1.44,"r":9,"v":30},{"t":1.44,"r":8,"v":36},{"t":1.44,"r":7,"v":40},{"t":1.44,"r":6,"v":46},{"t":1.44,"r":5,"v":56},{"t":1.44,"r":4,"v":62},{"t":1.44,"r":3,"v":72},{"t":1.44,"r":2,"v":85},{"t":1.44,"r":1,"v":92},
{"t":1.57,"r":15,"v":11},{"t":1.57,"r":14,"v":13},{"t":1.57,"r":13,"v":14},{"t":1.57,"r":12,"v":19},{"t":1.57,"r":11,"v":23},{"t":1.57,"r":10,"v":29},{"t":1.57,"r":9,"v":33},{"t":1.57,"r":8,"v":42},{"t":1.57,"r":7,"v":47},{"t":1.57,"r":6,"v":55},{"t":1.57,"r":5,"v":60},{"t":1.57,"r":4,"v":64},{"t":1.57,"r":3,"v":76},{"t":1.57,"r":2,"v":88},{"t":1.57,"r":1,"v":97},
{"t":1.7,"r":15,"v":8},{"t":1.7,"r":14,"v":9},{"t":1.7,"r":13,"v":12},{"t":1.7,"r":12,"v":18},{"t":1.7,"r":11,"v":19},{"t":1.7,"r":10,"v":25},{"t":1.7,"r":9,"v":31},{"t":1.7,"r":8,"v":37},{"t":1.7,"r":7,"v":45},{"t":1.7,"r":6,"v":50},{"t":1.7,"r":5,"v":58},{"t":1.7,"r":4,"v":63},{"t":1.7,"r":3,"v":72},{"t":1.7,"r":2,"v":84},{"t":1.7,"r":1,"v":95},
{"t":1.84,"r":15,"v":7},{"t":1.84,"r":14,"v":8},{"t":1.84,"r":13,"v":9},{"t":1.84,"r":12,"v":13},{"t":1.84,"r":11,"v":15},{"t":1.84,"r":10,"v":22},{"t":1.84,"r":9,"v":28},{"t":1.84,"r":8,"v":32},{"t":1.84,"r":7,"v":38},{"t":1.84,"r":6,"v":46},{"t":1.84,"r":5,"v":56},{"t":1.84,"r":4,"v":62},{"t":1.84,"r":3,"v":72},{"t":1.84,"r":2,"v":82},{"t":1.84,"r":1,"v":88},
{"t":1.97,"r":15,"v":12},{"t":1.97,"r":14,"v":13},{"t":1.97,"r":13,"v":13},{"t":1.97,"r":12,"v":14},{"t":1.97,"r":11,"v":17},{"t":1.97,"r":10,"v":21},{"t":1.97,"r":9,"v":27},{"t":1.97,"r":8,"v":30},{"t":1.97,"r":7,"v":36},{"t":1.97,"r":6,"v":44},{"t":1.97,"r":5,"v":54},{"t":1.97,"r":4,"v":60},{"t":1.97,"r":3,"v":68},{"t":1.97,"r":2,"v":76},{"t":1.97,"r":1,"v":80},
{"t":2.1,"r":15,"v":15},{"t":2.1,"r":14,"v":16},{"t":2.1,"r":13,"v":17},{"t":2.1,"r":12,"v":18},{"t":2.1,"r":11,"v":19},{"t":2.1,"r":10,"v":23},{"t":2.1,"r":9,"v":27},{"t":2.1,"r":8,"v":32},{"t":2.1,"r":7,"v":38},{"t":2.1,"r":6,"v":46},{"t":2.1,"r":5,"v":54},{"t":2.1,"r":4,"v":62},{"t":2.1,"r":3,"v":72},{"t":2.1,"r":2,"v":82},{"t":2.1,"r":1,"v":92},
{"t":2.24,"r":15,"v":13},{"t":2.24,"r":14,"v":13},{"t":2.24,"r":13,"v":14},{"t":2.24,"r":12,"v":15},{"t":2.24,"r":11,"v":15},{"t":2.24,"r":10,"v":21},{"t":2.24,"r":9,"v":25},{"t":2.24,"r":8,"v":30},{"t":2.24,"r":7,"v":36},{"t":2.24,"r":6,"v":42},{"t":2.24,"r":5,"v":50},{"t":2.24,"r":4,"v":60},{"t":2.24,"r":3,"v":70},{"t":2.24,"r":2,"v":78},{"t":2.24,"r":1,"v":88},
{"t":2.37,"r":15,"v":12},{"t":2.37,"r":14,"v":12},{"t":2.37,"r":13,"v":13},{"t":2.37,"r":12,"v":15},{"t":2.37,"r":11,"v":18},{"t":2.37,"r":10,"v":23},{"t":2.37,"r":9,"v":28},{"t":2.37,"r":8,"v":33},{"t":2.37,"r":7,"v":38},{"t":2.37,"r":6,"v":46},{"t":2.37,"r":5,"v":54},{"t":2.37,"r":4,"v":60},{"t":2.37,"r":3,"v":72},{"t":2.37,"r":2,"v":82},{"t":2.37,"r":1,"v":92},
{"t":2.5,"r":15,"v":17},{"t":2.5,"r":14,"v":17},{"t":2.5,"r":13,"v":19},{"t":2.5,"r":12,"v":20},{"t":2.5,"r":11,"v":22},{"t":2.5,"r":10,"v":27},{"t":2.5,"r":9,"v":31},{"t":2.5,"r":8,"v":35},{"t":2.5,"r":7,"v":40},{"t":2.5,"r":6,"v":46},{"t":2.5,"r":5,"v":56},{"t":2.5,"r":4,"v":60},{"t":2.5,"r":3,"v":72},{"t":2.5,"r":2,"v":82},{"t":2.5,"r":1,"v":88},
{"t":2.64,"r":15,"v":25},{"t":2.64,"r":14,"v":25},{"t":2.64,"r":13,"v":26},{"t":2.64,"r":12,"v":28},{"t":2.64,"r":11,"v":30},{"t":2.64,"r":10,"v":30},{"t":2.64,"r":9,"v":33},{"t":2.64,"r":8,"v":37},{"t":2.64,"r":7,"v":40},{"t":2.64,"r":6,"v":48},{"t":2.64,"r":5,"v":56},{"t":2.64,"r":4,"v":60},{"t":2.64,"r":3,"v":72},{"t":2.64,"r":2,"v":80},{"t":2.64,"r":1,"v":84},
{"t":2.77,"r":15,"v":34},{"t":2.77,"r":14,"v":33},{"t":2.77,"r":13,"v":32},{"t":2.77,"r":12,"v":32},{"t":2.77,"r":11,"v":33},{"t":2.77,"r":10,"v":34},{"t":2.77,"r":9,"v":36},{"t":2.77,"r":8,"v":38},{"t":2.77,"r":7,"v":43},{"t":2.77,"r":6,"v":50},{"t":2.77,"r":5,"v":56},{"t":2.77,"r":4,"v":60},{"t":2.77,"r":3,"v":70},{"t":2.77,"r":2,"v":76},{"t":2.77,"r":1,"v":82},
{"t":2.9,"r":15,"v":42},{"t":2.9,"r":14,"v":42},{"t":2.9,"r":13,"v":41},{"t":2.9,"r":12,"v":36},{"t":2.9,"r":11,"v":35},{"t":2.9,"r":10,"v":35},{"t":2.9,"r":9,"v":36},{"t":2.9,"r":8,"v":39},{"t":2.9,"r":7,"v":44},{"t":2.9,"r":6,"v":50},{"t":2.9,"r":5,"v":56},{"t":2.9,"r":4,"v":60},{"t":2.9,"r":3,"v":68},{"t":2.9,"r":2,"v":74},{"t":2.9,"r":1,"v":80},
{"t":3.04,"r":15,"v":55},{"t":3.04,"r":14,"v":55},{"t":3.04,"r":13,"v":52},{"t":3.04,"r":12,"v":46},{"t":3.04,"r":11,"v":44},{"t":3.04,"r":10,"v":38},{"t":3.04,"r":9,"v":37},{"t":3.04,"r":8,"v":40},{"t":3.04,"r":7,"v":46},{"t":3.04,"r":6,"v":52},{"t":3.04,"r":5,"v":57},{"t":3.04,"r":4,"v":60},{"t":3.04,"r":3,"v":68},{"t":3.04,"r":2,"v":76},{"t":3.04,"r":1,"v":84},
{"t":3.17,"r":15,"v":56},{"t":3.17,"r":14,"v":57},{"t":3.17,"r":13,"v":56},{"t":3.17,"r":12,"v":56},{"t":3.17,"r":11,"v":55},{"t":3.17,"r":10,"v":54},{"t":3.17,"r":9,"v":52},{"t":3.17,"r":8,"v":50},{"t":3.17,"r":7,"v":51},{"t":3.17,"r":6,"v":54},{"t":3.17,"r":5,"v":58},{"t":3.17,"r":4,"v":60},{"t":3.17,"r":3,"v":70},{"t":3.17,"r":2,"v":80},{"t":3.17,"r":1,"v":90},
{"t":3.3,"r":15,"v":54},{"t":3.3,"r":14,"v":54},{"t":3.3,"r":13,"v":56},{"t":3.3,"r":12,"v":58},{"t":3.3,"r":11,"v":64},{"t":3.3,"r":10,"v":66},{"t":3.3,"r":9,"v":66},{"t":3.3,"r":8,"v":63},{"t":3.3,"r":7,"v":63},{"t":3.3,"r":6,"v":60},{"t":3.3,"r":5,"v":62},{"t":3.3,"r":4,"v":68},{"t":3.3,"r":3,"v":78},{"t":3.3,"r":2,"v":92},{"t":3.3,"r":1,"v":98},
{"t":3.44,"r":15,"v":50},{"t":3.44,"r":14,"v":52},{"t":3.44,"r":13,"v":55},{"t":3.44,"r":12,"v":60},{"t":3.44,"r":11,"v":66},{"t":3.44,"r":10,"v":70},{"t":3.44,"r":9,"v":72},{"t":3.44,"r":8,"v":72},{"t":3.44,"r":7,"v":74},{"t":3.44,"r":6,"v":76},{"t":3.44,"r":5,"v":78},{"t":3.44,"r":4,"v":84},{"t":3.44,"r":3,"v":92},{"t":3.44,"r":2,"v":98},{"t":3.44,"r":1,"v":100},
{"t":3.57,"r":15,"v":55},{"t":3.57,"r":14,"v":55},{"t":3.57,"r":13,"v":58},{"t":3.57,"r":12,"v":64},{"t":3.57,"r":11,"v":69},{"t":3.57,"r":10,"v":74},{"t":3.57,"r":9,"v":76},{"t":3.57,"r":8,"v":84},{"t":3.57,"r":7,"v":88},{"t":3.57,"r":6,"v":96},{"t":3.57,"r":5,"v":98},{"t":3.57,"r":4,"v":98},{"t":3.57,"r":3,"v":98},{"t":3.57,"r":2,"v":98},{"t":3.57,"r":1,"v":100},
{"t":3.7,"r":15,"v":58},{"t":3.7,"r":14,"v":60},{"t":3.7,"r":13,"v":60},{"t":3.7,"r":12,"v":64},{"t":3.7,"r":11,"v":70},{"t":3.7,"r":10,"v":76},{"t":3.7,"r":9,"v":78},{"t":3.7,"r":8,"v":85},{"t":3.7,"r":7,"v":90},{"t":3.7,"r":6,"v":95},{"t":3.7,"r":5,"v":98},{"t":3.7,"r":4,"v":98},{"t":3.7,"r":3,"v":97},{"t":3.7,"r":2,"v":98},{"t":3.7,"r":1,"v":100},
{"t":3.84,"r":15,"v":68},{"t":3.84,"r":14,"v":70},{"t":3.84,"r":13,"v":74},{"t":3.84,"r":12,"v":76},{"t":3.84,"r":11,"v":78},{"t":3.84,"r":10,"v":82},{"t":3.84,"r":9,"v":86},{"t":3.84,"r":8,"v":90},{"t":3.84,"r":7,"v":94},{"t":3.84,"r":6,"v":97},{"t":3.84,"r":5,"v":99},{"t":3.84,"r":4,"v":98},{"t":3.84,"r":3,"v":97},{"t":3.84,"r":2,"v":98},{"t":3.84,"r":1,"v":98},
{"t":3.97,"r":15,"v":82},{"t":3.97,"r":14,"v":82},{"t":3.97,"r":13,"v":85},{"t":3.97,"r":12,"v":85},{"t":3.97,"r":11,"v":88},{"t":3.97,"r":10,"v":92},{"t":3.97,"r":9,"v":97},{"t":3.97,"r":8,"v":99},{"t":3.97,"r":7,"v":100},{"t":3.97,"r":6,"v":100},{"t":3.97,"r":5,"v":100},{"t":3.97,"r":4,"v":99},{"t":3.97,"r":3,"v":98},{"t":3.97,"r":2,"v":94},{"t":3.97,"r":1,"v":84},
{"t":4.1,"r":15,"v":76},{"t":4.1,"r":14,"v":78},{"t":4.1,"r":13,"v":82},{"t":4.1,"r":12,"v":84},{"t":4.1,"r":11,"v":84},{"t":4.1,"r":10,"v":86},{"t":4.1,"r":9,"v":88},{"t":4.1,"r":8,"v":88},{"t":4.1,"r":7,"v":90},{"t":4.1,"r":6,"v":88},{"t":4.1,"r":5,"v":84},{"t":4.1,"r":4,"v":80},{"t":4.1,"r":3,"v":72},{"t":4.1,"r":2,"v":66},{"t":4.1,"r":1,"v":58},
{"t":4.24,"r":15,"v":66},{"t":4.24,"r":14,"v":66},{"t":4.24,"r":13,"v":68},{"t":4.24,"r":12,"v":70},{"t":4.24,"r":11,"v":72},{"t":4.24,"r":10,"v":73},{"t":4.24,"r":9,"v":74},{"t":4.24,"r":8,"v":74},{"t":4.24,"r":7,"v":72},{"t":4.24,"r":6,"v":70},{"t":4.24,"r":5,"v":68},{"t":4.24,"r":4,"v":68},{"t":4.24,"r":3,"v":66},{"t":4.24,"r":2,"v":62},{"t":4.24,"r":1,"v":55},
{"t":4.37,"r":15,"v":58},{"t":4.37,"r":14,"v":58},{"t":4.37,"r":13,"v":60},{"t":4.37,"r":12,"v":60},{"t":4.37,"r":11,"v":58},{"t":4.37,"r":10,"v":58},{"t":4.37,"r":9,"v":58},{"t":4.37,"r":8,"v":58},{"t":4.37,"r":7,"v":56},{"t":4.37,"r":6,"v":58},{"t":4.37,"r":5,"v":58},{"t":4.37,"r":4,"v":56},{"t":4.37,"r":3,"v":56},{"t":4.37,"r":2,"v":50},{"t":4.37,"r":1,"v":48}
],
"d":[
{"t":0.1,"r":15,"v":2},{"t":0.1,"r":14,"v":0},{"t":0.1,"r":13,"v":1},{"t":0.1,"r":12,"v":3},{"t":0.1,"r":11,"v":4},{"t":0.1,"r":10,"v":8},{"t":0.1,"r":9,"v":11},{"t":0.1,"r":8,"v":16},{"t":0.1,"r":7,"v":20},{"t":0.1,"r":6,"v":24},{"t":0.1,"r":5,"v":28},{"t":0.1,"r":4,"v":33},{"t":0.1,"r":3,"v":36},{"t":0.1,"r":2,"v":45},{"t":0.1,"r":1,"v":53},
{"t":0.24,"r":15,"v":4},{"t":0.24,"r":14,"v":4},{"t":0.24,"r":13,"v":4},{"t":0.24,"r":12,"v":7},{"t":0.24,"r":11,"v":7},{"t":0.24,"r":10,"v":10},{"t":0.24,"r":9,"v":13},{"t":0.24,"r":8,"v":18},{"t":0.24,"r":7,"v":21},{"t":0.24,"r":6,"v":24},{"t":0.24,"r":5,"v":26},{"t":0.24,"r":4,"v":30},{"t":0.24,"r":3,"v":33},{"t":0.24,"r":2,"v":36},{"t":0.24,"r":1,"v":37},
{"t":0.37,"r":15,"v":17},{"t":0.37,"r":14,"v":14},{"t":0.37,"r":13,"v":14},{"t":0.37,"r":12,"v":13},{"t":0.37,"r":11,"v":13},{"t":0.37,"r":10,"v":14},{"t":0.37,"r":9,"v":16},{"t":0.37,"r":8,"v":18},{"t":0.37,"r":7,"v":20},{"t":0.37,"r":6,"v":21},{"t":0.37,"r":5,"v":20},{"t":0.37,"r":4,"v":22},{"t":0.37,"r":3,"v":22},{"t":0.37,"r":2,"v":22},{"t":0.37,"r":1,"v":22},
{"t":0.5,"r":15,"v":30},{"t":0.5,"r":14,"v":28},{"t":0.5,"r":13,"v":27},{"t":0.5,"r":12,"v":25},{"t":0.5,"r":11,"v":20},{"t":0.5,"r":10,"v":18},{"t":0.5,"r":9,"v":17},{"t":0.5,"r":8,"v":14},{"t":0.5,"r":7,"v":13},{"t":0.5,"r":6,"v":11},{"t":0.5,"r":5,"v":8},{"t":0.5,"r":4,"v":8},{"t":0.5,"r":3,"v":7},{"t":0.5,"r":2,"v":6},{"t":0.5,"r":1,"v":5},
{"t":0.64,"r":15,"v":33},{"t":0.64,"r":14,"v":33},{"t":0.64,"r":13,"v":33},{"t":0.64,"r":12,"v":32},{"t":0.64,"r":11,"v":29},{"t":0.64,"r":10,"v":26},{"t":0.64,"r":9,"v":22},{"t":0.64,"r":8,"v":18},{"t":0.64,"r":7,"v":13},{"t":0.64,"r":6,"v":8},{"t":0.64,"r":5,"v":5},{"t":0.64,"r":4,"v":4},{"t":0.64,"r":3,"v":3},{"t":0.64,"r":2,"v":3},{"t":0.64,"r":1,"v":2},
{"t":0.77,"r":15,"v":36},{"t":0.77,"r":14,"v":37},{"t":0.77,"r":13,"v":35},{"t":0.77,"r":12,"v":34},{"t":0.77,"r":11,"v":31},{"t":0.77,"r":10,"v":30},{"t":0.77,"r":9,"v":27},{"t":0.77,"r":8,"v":23},{"t":0.77,"r":7,"v":17},{"t":0.77,"r":6,"v":11},{"t":0.77,"r":5,"v":7},{"t":0.77,"r":4,"v":5},{"t":0.77,"r":3,"v":5},{"t":0.77,"r":2,"v":6},{"t":0.77,"r":1,"v":6},
{"t":0.9,"r":15,"v":41},{"t":0.9,"r":14,"v":41},{"t":0.9,"r":13,"v":38},{"t":0.9,"r":12,"v":36},{"t":0.9,"r":11,"v":36},{"t":0.9,"r":10,"v":34},{"t":0.9,"r":9,"v":33},{"t":0.9,"r":8,"v":32},{"t":0.9,"r":7,"v":28},{"t":0.9,"r":6,"v":24},{"t":0.9,"r":5,"v":18},{"t":0.9,"r":4,"v":14},{"t":0.9,"r":3,"v":13},{"t":0.9,"r":2,"v":16},{"t":0.9,"r":1,"v":17},
{"t":1.04,"r":15,"v":44},{"t":1.04,"r":14,"v":41},{"t":1.04,"r":13,"v":38},{"t":1.04,"r":12,"v":38},{"t":1.04,"r":11,"v":37},{"t":1.04,"r":10,"v":37},{"t":1.04,"r":9,"v":37},{"t":1.04,"r":8,"v":36},{"t":1.04,"r":7,"v":36},{"t":1.04,"r":6,"v":35},{"t":1.04,"r":5,"v":33},{"t":1.04,"r":4,"v":30},{"t":1.04,"r":3,"v":27},{"t":1.04,"r":2,"v":25},{"t":1.04,"r":1,"v":24},
{"t":1.17,"r":15,"v":42},{"t":1.17,"r":14,"v":40},{"t":1.17,"r":13,"v":37},{"t":1.17,"r":12,"v":36},{"t":1.17,"r":11,"v":36},{"t":1.17,"r":10,"v":36},{"t":1.17,"r":9,"v":36},{"t":1.17,"r":8,"v":37},{"t":1.17,"r":7,"v":37},{"t":1.17,"r":6,"v":38},{"t":1.17,"r":5,"v":40},{"t":1.17,"r":4,"v":42},{"t":1.17,"r":3,"v":40},{"t":1.17,"r":2,"v":38},{"t":1.17,"r":1,"v":34},
{"t":1.3,"r":15,"v":34},{"t":1.3,"r":14,"v":34},{"t":1.3,"r":13,"v":33},{"t":1.3,"r":12,"v":33},{"t":1.3,"r":11,"v":33},{"t":1.3,"r":10,"v":33},{"t":1.3,"r":9,"v":33},{"t":1.3,"r":8,"v":34},{"t":1.3,"r":7,"v":34},{"t":1.3,"r":6,"v":36},{"t":1.3,"r":5,"v":38},{"t":1.3,"r":4,"v":40},{"t":1.3,"r":3,"v":42},{"t":1.3,"r":2,"v":42},{"t":1.3,"r":1,"v":38},
{"t":1.44,"r":15,"v":28},{"t":1.44,"r":14,"v":22},{"t":1.44,"r":13,"v":22},{"t":1.44,"r":12,"v":22},{"t":1.44,"r":11,"v":20},{"t":1.44,"r":10,"v":20},{"t":1.44,"r":9,"v":22},{"t":1.44,"r":8,"v":24},{"t":1.44,"r":7,"v":28},{"t":1.44,"r":6,"v":30},{"t":1.44,"r":5,"v":34},{"t":1.44,"r":4,"v":38},{"t":1.44,"r":3,"v":43},{"t":1.44,"r":2,"v":42},{"t":1.44,"r":1,"v":38},
{"t":1.57,"r":15,"v":22},{"t":1.57,"r":14,"v":16},{"t":1.57,"r":13,"v":15},{"t":1.57,"r":12,"v":15},{"t":1.57,"r":11,"v":15},{"t":1.57,"r":10,"v":15},{"t":1.57,"r":9,"v":15},{"t":1.57,"r":8,"v":20},{"t":1.57,"r":7,"v":25},{"t":1.57,"r":6,"v":30},{"t":1.57,"r":5,"v":33},{"t":1.57,"r":4,"v":38},{"t":1.57,"r":3,"v":40},{"t":1.57,"r":2,"v":37},{"t":1.57,"r":1,"v":35},
{"t":1.7,"r":15,"v":26},{"t":1.7,"r":14,"v":22},{"t":1.7,"r":13,"v":18},{"t":1.7,"r":12,"v":15},{"t":1.7,"r":11,"v":15},{"t":1.7,"r":10,"v":15},{"t":1.7,"r":9,"v":16},{"t":1.7,"r":8,"v":21},{"t":1.7,"r":7,"v":26},{"t":1.7,"r":6,"v":30},{"t":1.7,"r":5,"v":33},{"t":1.7,"r":4,"v":36},{"t":1.7,"r":3,"v":36},{"t":1.7,"r":2,"v":36},{"t":1.7,"r":1,"v":34},
{"t":1.84,"r":15,"v":24},{"t":1.84,"r":14,"v":24},{"t":1.84,"r":13,"v":23},{"t":1.84,"r":12,"v":22},{"t":1.84,"r":11,"v":21},{"t":1.84,"r":10,"v":21},{"t":1.84,"r":9,"v":22},{"t":1.84,"r":8,"v":26},{"t":1.84,"r":7,"v":31},{"t":1.84,"r":6,"v":35},{"t":1.84,"r":5,"v":38},{"t":1.84,"r":4,"v":40},{"t":1.84,"r":3,"v":42},{"t":1.84,"r":2,"v":40},{"t":1.84,"r":1,"v":36},
{"t":1.97,"r":15,"v":24},{"t":1.97,"r":14,"v":24},{"t":1.97,"r":13,"v":23},{"t":1.97,"r":12,"v":22},{"t":1.97,"r":11,"v":23},{"t":1.97,"r":10,"v":23},{"t":1.97,"r":9,"v":24},{"t":1.97,"r":8,"v":27},{"t":1.97,"r":7,"v":30},{"t":1.97,"r":6,"v":32},{"t":1.97,"r":5,"v":34},{"t":1.97,"r":4,"v":36},{"t":1.97,"r":3,"v":37},{"t":1.97,"r":2,"v":36},{"t":1.97,"r":1,"v":32},
{"t":2.1,"r":15,"v":36},{"t":2.1,"r":14,"v":36},{"t":2.1,"r":13,"v":34},{"t":2.1,"r":12,"v":33},{"t":2.1,"r":11,"v":32},{"t":2.1,"r":10,"v":29},{"t":2.1,"r":9,"v":29},{"t":2.1,"r":8,"v":28},{"t":2.1,"r":7,"v":26},{"t":2.1,"r":6,"v":25},{"t":2.1,"r":5,"v":25},{"t":2.1,"r":4,"v":26},{"t":2.1,"r":3,"v":27},{"t":2.1,"r":2,"v":28},{"t":2.1,"r":1,"v":28},
{"t":2.24,"r":15,"v":42},{"t":2.24,"r":14,"v":44},{"t":2.24,"r":13,"v":44},{"t":2.24,"r":12,"v":40},{"t":2.24,"r":11,"v":36},{"t":2.24,"r":10,"v":33},{"t":2.24,"r":9,"v":31},{"t":2.24,"r":8,"v":29},{"t":2.24,"r":7,"v":22},{"t":2.24,"r":6,"v":22},{"t":2.24,"r":5,"v":24},{"t":2.24,"r":4,"v":25},{"t":2.24,"r":3,"v":24},{"t":2.24,"r":2,"v":25},{"t":2.24,"r":1,"v":27},
{"t":2.37,"r":15,"v":38},{"t":2.37,"r":14,"v":38},{"t":2.37,"r":13,"v":38},{"t":2.37,"r":12,"v":40},{"t":2.37,"r":11,"v":40},{"t":2.37,"r":10,"v":40},{"t":2.37,"r":9,"v":38},{"t":2.37,"r":8,"v":33},{"t":2.37,"r":7,"v":33},{"t":2.37,"r":6,"v":34},{"t":2.37,"r":5,"v":30},{"t":2.37,"r":4,"v":29},{"t":2.37,"r":3,"v":30},{"t":2.37,"r":2,"v":30},{"t":2.37,"r":1,"v":32},
{"t":2.5,"r":15,"v":55},{"t":2.5,"r":14,"v":55},{"t":2.5,"r":13,"v":55},{"t":2.5,"r":12,"v":55},{"t":2.5,"r":11,"v":54},{"t":2.5,"r":10,"v":53},{"t":2.5,"r":9,"v":53},{"t":2.5,"r":8,"v":54},{"t":2.5,"r":7,"v":54},{"t":2.5,"r":6,"v":55},{"t":2.5,"r":5,"v":56},{"t":2.5,"r":4,"v":56},{"t":2.5,"r":3,"v":57},{"t":2.5,"r":2,"v":60},{"t":2.5,"r":1,"v":60},
{"t":2.64,"r":15,"v":65},{"t":2.64,"r":14,"v":66},{"t":2.64,"r":13,"v":66},{"t":2.64,"r":12,"v":68},{"t":2.64,"r":11,"v":70},{"t":2.64,"r":10,"v":72},{"t":2.64,"r":9,"v":72},{"t":2.64,"r":8,"v":72},{"t":2.64,"r":7,"v":72},{"t":2.64,"r":6,"v":72},{"t":2.64,"r":5,"v":74},{"t":2.64,"r":4,"v":80},{"t":2.64,"r":3,"v":84},{"t":2.64,"r":2,"v":84},{"t":2.64,"r":1,"v":78},
{"t":2.77,"r":15,"v":64},{"t":2.77,"r":14,"v":64},{"t":2.77,"r":13,"v":66},{"t":2.77,"r":12,"v":66},{"t":2.77,"r":11,"v":66},{"t":2.77,"r":10,"v":68},{"t":2.77,"r":9,"v":70},{"t":2.77,"r":8,"v":72},{"t":2.77,"r":7,"v":72},{"t":2.77,"r":6,"v":74},{"t":2.77,"r":5,"v":74},{"t":2.77,"r":4,"v":80},{"t":2.77,"r":3,"v":84},{"t":2.77,"r":2,"v":84},{"t":2.77,"r":1,"v":80},
{"t":2.9,"r":15,"v":58},{"t":2.9,"r":14,"v":58},{"t":2.9,"r":13,"v":57},{"t":2.9,"r":12,"v":54},{"t":2.9,"r":11,"v":50},{"t":2.9,"r":10,"v":48},{"t":2.9,"r":9,"v":48},{"t":2.9,"r":8,"v":48},{"t":2.9,"r":7,"v":50},{"t":2.9,"r":6,"v":60},{"t":2.9,"r":5,"v":66},{"t":2.9,"r":4,"v":70},{"t":2.9,"r":3,"v":72},{"t":2.9,"r":2,"v":72},{"t":2.9,"r":1,"v":72},
{"t":3.04,"r":15,"v":60},{"t":3.04,"r":14,"v":60},{"t":3.04,"r":13,"v":60},{"t":3.04,"r":12,"v":58},{"t":3.04,"r":11,"v":54},{"t":3.04,"r":10,"v":50},{"t":3.04,"r":9,"v":50},{"t":3.04,"r":8,"v":50},{"t":3.04,"r":7,"v":52},{"t":3.04,"r":6,"v":55},{"t":3.04,"r":5,"v":58},{"t":3.04,"r":4,"v":60},{"t":3.04,"r":3,"v":60},{"t":3.04,"r":2,"v":58},{"t":3.04,"r":1,"v":56},
{"t":3.17,"r":15,"v":66},{"t":3.17,"r":14,"v":68},{"t":3.17,"r":13,"v":70},{"t":3.17,"r":12,"v":68},{"t":3.17,"r":11,"v":68},{"t":3.17,"r":10,"v":64},{"t":3.17,"r":9,"v":62},{"t":3.17,"r":8,"v":64},{"t":3.17,"r":7,"v":65},{"t":3.17,"r":6,"v":60},{"t":3.17,"r":5,"v":55},{"t":3.17,"r":4,"v":50},{"t":3.17,"r":3,"v":42},{"t":3.17,"r":2,"v":42},{"t":3.17,"r":1,"v":42},
{"t":3.3,"r":15,"v":68},{"t":3.3,"r":14,"v":72},{"t":3.3,"r":13,"v":76},{"t":3.3,"r":12,"v":80},{"t":3.3,"r":11,"v":84},{"t":3.3,"r":10,"v":82},{"t":3.3,"r":9,"v":80},{"t":3.3,"r":8,"v":78},{"t":3.3,"r":7,"v":74},{"t":3.3,"r":6,"v":68},{"t":3.3,"r":5,"v":60},{"t":3.3,"r":4,"v":54},{"t":3.3,"r":3,"v":54},{"t":3.3,"r":2,"v":52},{"t":3.3,"r":1,"v":50},
{"t":3.44,"r":15,"v":72},{"t":3.44,"r":14,"v":76},{"t":3.44,"r":13,"v":80},{"t":3.44,"r":12,"v":86},{"t":3.44,"r":11,"v":88},{"t":3.44,"r":10,"v":88},{"t":3.44,"r":9,"v":90},{"t":3.44,"r":8,"v":88},{"t":3.44,"r":7,"v":86},{"t":3.44,"r":6,"v":80},{"t":3.44,"r":5,"v":72},{"t":3.44,"r":4,"v":68},{"t":3.44,"r":3,"v":68},{"t":3.44,"r":2,"v":68},{"t":3.44,"r":1,"v":60},
{"t":3.57,"r":15,"v":72},{"t":3.57,"r":14,"v":76},{"t":3.57,"r":13,"v":80},{"t":3.57,"r":12,"v":82},{"t":3.57,"r":11,"v":86},{"t":3.57,"r":10,"v":86},{"t":3.57,"r":9,"v":90},{"t":3.57,"r":8,"v":94},{"t":3.57,"r":7,"v":96},{"t":3.57,"r":6,"v":98},{"t":3.57,"r":5,"v":98},{"t":3.57,"r":4,"v":98},{"t":3.57,"r":3,"v":92},{"t":3.57,"r":2,"v":86},{"t":3.57,"r":1,"v":80},
{"t":3.7,"r":15,"v":68},{"t":3.7,"r":14,"v":72},{"t":3.7,"r":13,"v":76},{"t":3.7,"r":12,"v":78},{"t":3.7,"r":11,"v":82},{"t":3.7,"r":10,"v":86},{"t":3.7,"r":9,"v":88},{"t":3.7,"r":8,"v":90},{"t":3.7,"r":7,"v":92},{"t":3.7,"r":6,"v":94},{"t":3.7,"r":5,"v":98},{"t":3.7,"r":4,"v":99},{"t":3.7,"r":3,"v":99},{"t":3.7,"r":2,"v":98},{"t":3.7,"r":1,"v":96},
{"t":3.84,"r":15,"v":82},{"t":3.84,"r":14,"v":82},{"t":3.84,"r":13,"v":82},{"t":3.84,"r":12,"v":82},{"t":3.84,"r":11,"v":84},{"t":3.84,"r":10,"v":90},{"t":3.84,"r":9,"v":96},{"t":3.84,"r":8,"v":96},{"t":3.84,"r":7,"v":96},{"t":3.84,"r":6,"v":96},{"t":3.84,"r":5,"v":97},{"t":3.84,"r":4,"v":97},{"t":3.84,"r":3,"v":98},{"t":3.84,"r":2,"v":98},{"t":3.84,"r":1,"v":98},
{"t":3.97,"r":15,"v":82},{"t":3.97,"r":14,"v":86},{"t":3.97,"r":13,"v":88},{"t":3.97,"r":12,"v":90},{"t":3.97,"r":11,"v":92},{"t":3.97,"r":10,"v":96},{"t":3.97,"r":9,"v":98},{"t":3.97,"r":8,"v":100},{"t":3.97,"r":7,"v":100},{"t":3.97,"r":6,"v":100},{"t":3.97,"r":5,"v":100},{"t":3.97,"r":4,"v":99},{"t":3.97,"r":3,"v":98},{"t":3.97,"r":2,"v":95},{"t":3.97,"r":1,"v":82},
{"t":4.1,"r":15,"v":78},{"t":4.1,"r":14,"v":80},{"t":4.1,"r":13,"v":83},{"t":4.1,"r":12,"v":84},{"t":4.1,"r":11,"v":84},{"t":4.1,"r":10,"v":88},{"t":4.1,"r":9,"v":90},{"t":4.1,"r":8,"v":90},{"t":4.1,"r":7,"v":90},{"t":4.1,"r":6,"v":88},{"t":4.1,"r":5,"v":84},{"t":4.1,"r":4,"v":82},{"t":4.1,"r":3,"v":76},{"t":4.1,"r":2,"v":64},{"t":4.1,"r":1,"v":58},
{"t":4.24,"r":15,"v":72},{"t":4.24,"r":14,"v":72},{"t":4.24,"r":13,"v":72},{"t":4.24,"r":12,"v":74},{"t":4.24,"r":11,"v":76},{"t":4.24,"r":10,"v":76},{"t":4.24,"r":9,"v":76},{"t":4.24,"r":8,"v":76},{"t":4.24,"r":7,"v":74},{"t":4.24,"r":6,"v":70},{"t":4.24,"r":5,"v":66},{"t":4.24,"r":4,"v":64},{"t":4.24,"r":3,"v":62},{"t":4.24,"r":2,"v":60},{"t":4.24,"r":1,"v":56},
{"t":4.37,"r":15,"v":66},{"t":4.37,"r":14,"v":66},{"t":4.37,"r":13,"v":66},{"t":4.37,"r":12,"v":66},{"t":4.37,"r":11,"v":62},{"t":4.37,"r":10,"v":60},{"t":4.37,"r":9,"v":57},{"t":4.37,"r":8,"v":56},{"t":4.37,"r":7,"v":56},{"t":4.37,"r":6,"v":56},{"t":4.37,"r":5,"v":54},{"t":4.37,"r":4,"v":56},{"t":4.37,"r":3,"v":54},{"t":4.37,"r":2,"v":54},{"t":4.37,"r":1,"v":50}
]
},
"vconcat":[
{"width":776,"height":124.5,"title":{"text":"(a) Stromkurven","offset":-50},"view":{"stroke":"#7a7a7a","strokeWidth":1.5},
"data":{"name":"kurven"},
"layer":[
{"mark":{"type":"rule","stroke":"#222","strokeWidth":1.5},"encoding":{"x":{"datum":-0.707,"type":"quantitative","scale":{"domain":[-0.114,4.313]}},"y":{"datum":0.9635,"type":"quantitative","scale":{"domain":[0.337,0.713]}},"y2":{"datum":-3.017}}},
{"mark":{"type":"rule","stroke":"#222","strokeWidth":1.5},"encoding":{"x":{"datum":-0.707,"type":"quantitative","scale":{"domain":[-0.114,4.313]}},"x2":{"datum":4.438},"y":{"datum":0.9635,"type":"quantitative","scale":{"domain":[0.337,0.713]}}}},
{"mark":{"type":"line","clip":true},"encoding":{"x":{"field":"t","type":"quantitative","scale":{"domain":[-0.114,4.313]},"axis":{"values":[0,1,2,3,4],"format":"d","title":"Zeit in Sekunden","labelPadding":15,"titlePadding":28}},"y":{"field":"i","type":"quantitative","scale":{"domain":[0.337,0.713]},"axis":{"values":[0.35,0.4,0.45,0.5,0.55,0.6,0.65,0.7],"format":".2f","labelExpr":"datum.label=='0.35'||datum.label=='0.55'?datum.label:''","title":"Strom in Ampere","labelAngle":270,"labelAlign":"center","labelBaseline":"bottom","labelPadding":14,"titlePadding":28}},"strokeWidth":{"field":"s","type":"nominal","sort":null,"scale":{"domain":["Normal","Fehlerbild 1","Fehlerbild 2"],"range":[4.5,2.8,2.8]},"legend":null},"color":{"field":"s","type":"nominal","sort":null,"scale":{"domain":["Normal","Fehlerbild 1","Fehlerbild 2"],"range":["#000000","#e8262b","#2a4fa2"]},"legend":{"orient":"none","legendX":125,"legendY":5,"title":null,"symbolType":"M0,-1L0,1","symbolSize":225,"symbolStrokeWidth":2.5,"symbolOffset":-3,"labelFontSize":19,"labelColor":"#111","strokeColor":"#666","fillColor":"white","padding":12,"rowPadding":-2,"labelOffset":5}}}}
]},
{"width":776,"height":125,"title":"(b) Skalogramm (Normal)","data":{"name":"b"},
"mark":{"type":"rect","width":26,"height":8.8,"clip":true},"encoding":{"x":{"field":"t","type":"quantitative","scale":{"domain":[0.0363,4.435]},"axis":{"values":[1,2,3,4],"title":"Zeit in Sekunden","labelPadding":15,"titlePadding":28}},"y":{"field":"r","type":"quantitative","scale":{"domain":[0.5,15.5]},"axis":{"values":[2,4,6,8,10,12,14],"labelExpr":"datum.value==2||datum.value==6||datum.value==10?datum.label:''","domain":false,"title":"Skalierung (Radius)","labelAngle":270,"labelAlign":"center","labelBaseline":"bottom","labelPadding":14,"titlePadding":28}},"color":{"field":"v","type":"quantitative","scale":{"domain":[0,60,100],"range":["#ffffff","#707576","#ee2325"],"interpolate":"rgb"},"legend":null}}},
{"width":776,"height":125,"title":"(c) Skalogramm (Fehlerbild 1)","data":{"name":"c"},
"mark":{"type":"rect","width":26,"height":8.8,"clip":true},"encoding":{"x":{"field":"t","type":"quantitative","scale":{"domain":[0.0363,4.435]},"axis":{"values":[1,2,3,4],"title":"Zeit in Sekunden","labelPadding":15,"titlePadding":28}},"y":{"field":"r","type":"quantitative","scale":{"domain":[0.5,15.5]},"axis":{"values":[2,4,6,8,10,12,14],"labelExpr":"datum.value==2||datum.value==6||datum.value==10?datum.label:''","domain":false,"title":"Skalierung (Radius)","labelAngle":270,"labelAlign":"center","labelBaseline":"bottom","labelPadding":14,"titlePadding":28}},"color":{"field":"v","type":"quantitative","scale":{"domain":[0,60,100],"range":["#ffffff","#707576","#ee2325"],"interpolate":"rgb"},"legend":null}}},
{"width":776,"height":125,"title":"(d) Skalogramm (Fehlerbild 2)","data":{"name":"d"},
"mark":{"type":"rect","width":26,"height":8.8,"clip":true},"encoding":{"x":{"field":"t","type":"quantitative","scale":{"domain":[0.0363,4.435]},"axis":{"values":[1,2,3,4],"title":"Zeit in Sekunden","labelPadding":15,"titlePadding":28}},"y":{"field":"r","type":"quantitative","scale":{"domain":[0.5,15.5]},"axis":{"values":[2,4,6,8,10,12,14],"labelExpr":"datum.value==2||datum.value==6||datum.value==10?datum.label:''","domain":false,"title":"Skalierung (Radius)","labelAngle":270,"labelAlign":"center","labelBaseline":"bottom","labelPadding":14,"titlePadding":28}},"color":{"field":"v","type":"quantitative","scale":{"domain":[0,60,100],"range":["#ffffff","#707576","#ee2325"],"interpolate":"rgb"},"legend":null}}}
]}
